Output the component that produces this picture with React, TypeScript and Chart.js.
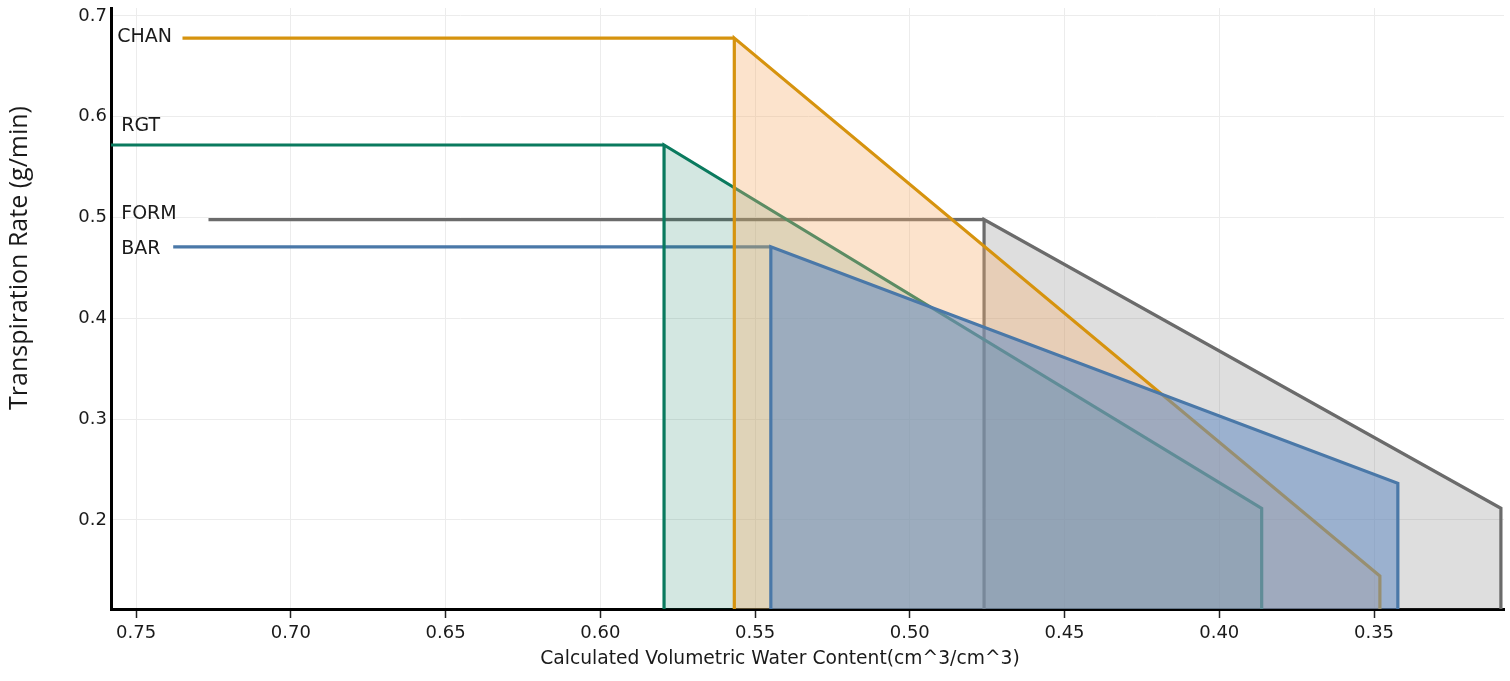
import React, { useEffect, useRef } from 'react';
import { Chart, registerables } from 'chart.js';

Chart.register(...registerables);

// values
const seriesNames = ['CHAN', 'RGT', 'FORM', 'BAR'];
const plateauRate = [0.678, 0.572, 0.498, 0.471];
const lineStartVwc = [0.735, 0.765, 0.7266, 0.738];
const breakVwc = [0.5567, 0.5794, 0.476, 0.5449];
const endVwc = [0.3481, 0.3863, 0.309, 0.3423];
const endRate = [0.1444, 0.2116, 0.2116, 0.2364];
const labelVwc = [0.7561, 0.7548, 0.7548, 0.7548];
const labelRate = [0.679, 0.591, 0.5036, 0.469];

const xTicks = [0.75, 0.7, 0.65, 0.6, 0.55, 0.5, 0.45, 0.4, 0.35];
const yTicks = [0.2, 0.3, 0.4, 0.5, 0.6, 0.7];

const X_MIN = 0.308;
const X_MAX = 0.7581;
const Y_MIN = 0.1117;
const Y_MAX = 0.7079;

const lineColors = ['#D6930E', '#0A7A5E', '#6B6B6B', '#4A78A8'];
const fillColors = [
  'rgba(246,175,109,0.35)',
  'rgba(10,122,90,0.18)',
  'rgba(107,107,107,0.22)',
  'rgba(100,140,195,0.55)',
];
// lower order = drawn on top
const polyOrder = [2, 3, 4, 1];

const labelsPlugin = {
  id: 'seriesLabels',
  afterDatasetsDraw(chart: any) {
    const { ctx, scales } = chart;
    ctx.save();
    ctx.font = '19px "DejaVu Sans"';
    ctx.fillStyle = '#1a1a1a';
    ctx.textAlign = 'left';
    ctx.textBaseline = 'middle';
    seriesNames.forEach((name, i) => {
      ctx.fillText(name, scales.x.getPixelForValue(labelVwc[i]), scales.y.getPixelForValue(labelRate[i]));
    });
    ctx.restore();
  },
  afterDraw(chart: any) {
    const { ctx } = chart;
    ctx.save();
    ctx.fillStyle = '#1a1a1a';
    ctx.textAlign = 'center';
    ctx.textBaseline = 'middle';
    ctx.font = '18.7px "DejaVu Sans"';
    ctx.fillText('Calculated Volumetric Water Content(cm^3/cm^3)', 780, 659);
    ctx.translate(20, 258);
    ctx.rotate(-Math.PI / 2);
    ctx.font = '25px "Open Sans"';
    ctx.fillText('Transpiration Rate (g/min)', 0, 0);
    ctx.restore();
  },
};

const App: React.FC = () => {
  const canvasRef = useRef<HTMLCanvasElement>(null);

  useEffect(() => {
    const ctx = canvasRef.current?.getContext('2d');
    if (!ctx) return;

    const flatSets = seriesNames.map((name, i) => ({
      label: name + ' plateau',
      data: [
        { x: lineStartVwc[i], y: plateauRate[i] },
        { x: breakVwc[i], y: plateauRate[i] },
      ],
      showLine: true,
      borderColor: lineColors[i],
      borderWidth: 3.2,
      pointRadius: 0,
      fill: false,
      order: 5,
    }));

    const polySets = seriesNames.map((name, i) => ({
      label: name,
      data: [
        { x: breakVwc[i], y: Y_MIN },
        { x: breakVwc[i], y: plateauRate[i] },
        { x: endVwc[i], y: endRate[i] },
        { x: endVwc[i], y: Y_MIN },
      ],
      showLine: true,
      borderColor: lineColors[i],
      backgroundColor: fillColors[i],
      borderWidth: 3.2,
      pointRadius: 0,
      fill: 'start',
      order: polyOrder[i],
    }));

    const chart = new Chart(ctx, {
      type: 'scatter',
      data: { datasets: [...flatSets, ...polySets] as any },
      options: {
        animation: false,
        responsive: true,
        maintainAspectRatio: false,
        layout: { padding: { top: 8, right: 6, left: 0, bottom: 0 } },
        plugins: {
          legend: { display: false },
          tooltip: { enabled: false },
        },
        scales: {
          x: {
            type: 'linear',
            reverse: true,
            min: X_MIN,
            max: X_MAX,
            afterBuildTicks: (scale: any) => {
              scale.ticks = xTicks.map((v) => ({ value: v }));
            },
            afterFit: (scale: any) => {
              scale.height = 72;
              scale.paddingLeft = 0;
              scale.paddingRight = 0;
            },
            grid: {
              color: '#ececec',
              lineWidth: 1,
              tickLength: 9,
              tickColor: '#222',
              tickWidth: 1.5,
            },
            border: { color: '#000', width: 3 },
            ticks: {
              padding: 5,
              color: '#1a1a1a',
              font: { family: 'DejaVu Sans', size: 18 },
              callback: (v: any) => Number(v).toFixed(2),
            },
          },
          y: {
            type: 'linear',
            min: Y_MIN,
            max: Y_MAX,
            afterBuildTicks: (scale: any) => {
              scale.ticks = yTicks.map((v) => ({ value: v }));
            },
            afterFit: (scale: any) => {
              scale.width = 111;
              scale.paddingTop = 0;
              scale.paddingBottom = 0;
            },
            grid: {
              color: '#ececec',
              lineWidth: 1,
              drawTicks: false,
            },
            border: { color: '#000', width: 3 },
            ticks: {
              padding: 4,
              color: '#1a1a1a',
              font: { family: 'DejaVu Sans', size: 18 },
              callback: (v: any) => Number(v).toFixed(1),
            },
          },
        },
      },
      plugins: [labelsPlugin],
    });

    return () => {
      chart.destroy();
    };
  }, []);

  return (
    <div style={{ position: 'absolute', left: 0, top: 0, width: 1510, height: 681, background: '#fff' }}>
      <canvas ref={canvasRef}></canvas>
    </div>
  );
};

export default App;
